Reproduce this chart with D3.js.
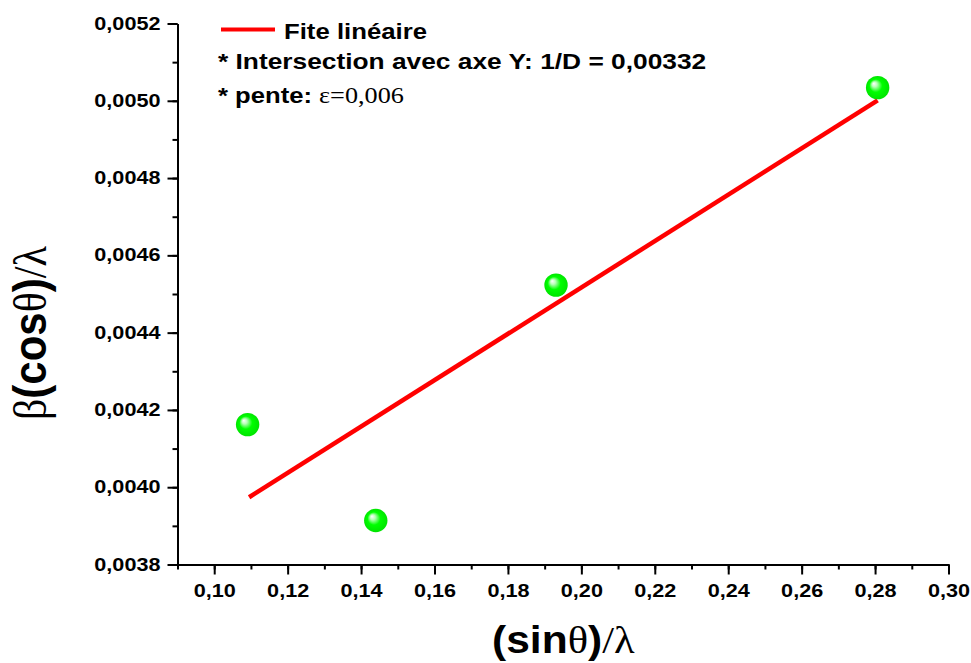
<!DOCTYPE html>
<html lang="en">
<head>
  <meta charset="UTF-8">
  <script src="https://cdnjs.cloudflare.com/ajax/libs/d3/7.8.5/d3.min.js"></script>
  <title>Williamson-Hall</title>
  <style>
    body { margin: 0; background: #fff; }
    text { font-family: "Liberation Sans", Arial, sans-serif; font-weight: bold; fill: #000; }
    .tick text { font-size: 18.5px; }
    .greek { font-family: "Liberation Serif", "Times New Roman", serif; font-weight: normal; }
    .axis path, .axis line { stroke: #000; stroke-width: 2; }
  </style>
</head>
<body>
<script>
  // points
  const sinTheta = [0.1091, 0.1440, 0.1931, 0.2807];
  const betaCos = [0.004162, 0.003914, 0.004523, 0.005034];
  // linear fit ends (1/D = 0,00332, slope 0,006)
  const fitX = [0.1095, 0.2807];
  const fitY = [0.003974, 0.005001];

  const xTicks = [0.10, 0.12, 0.14, 0.16, 0.18, 0.20, 0.22, 0.24, 0.26, 0.28, 0.30];
  const yTicks = [0.0038, 0.0040, 0.0042, 0.0044, 0.0046, 0.0048, 0.0050, 0.0052];
  const legendTexts = ["Fite linéaire", "* Intersection avec axe Y: 1/D = 0,00332"];

  const width = 971, height = 663;
  const stretch = 1.17;

  const svg = d3.select("body").append("svg")
    .attr("width", width).attr("height", height);

  const x = d3.scaleLinear().domain([0.09, 0.30]).range([177.5, 948.5]);
  const y = d3.scaleLinear().domain([0.0038, 0.0052]).range([564.5, 23.5]);

  const fr = d3.formatLocale({ decimal: ",", thousands: " ", grouping: [3], currency: ["", ""] });

  // gradient for the green balls
  const grad = svg.append("defs").append("radialGradient")
    .attr("id", "ball").attr("cx", "50%").attr("cy", "50%").attr("r", "50%")
    .attr("fx", "33%").attr("fy", "32%");
  grad.append("stop").attr("offset", "0%").attr("stop-color", "#ffffff");
  grad.append("stop").attr("offset", "22%").attr("stop-color", "#b8ffb8");
  grad.append("stop").attr("offset", "55%").attr("stop-color", "#00ff00");
  grad.append("stop").attr("offset", "100%").attr("stop-color", "#00e400");

  // minor ticks first
  svg.append("g").attr("class", "axis")
    .attr("transform", `translate(0,${y(0.0038)})`)
    .call(d3.axisBottom(x).tickValues(d3.range(0.09, 0.3001, 0.01)).tickSize(5).tickFormat(""))
    .select(".domain").remove();
  svg.append("g").attr("class", "axis")
    .attr("transform", `translate(${x(0.09)},0)`)
    .call(d3.axisLeft(y).tickValues(d3.range(0.0038, 0.00521, 0.0001)).tickSize(5).tickFormat(""))
    .select(".domain").remove();

  const gx = svg.append("g").attr("class", "axis")
    .attr("transform", `translate(0,${y(0.0038)})`)
    .call(d3.axisBottom(x).tickValues(xTicks).tickSize(10).tickSizeOuter(0).tickFormat(fr.format(".2f")));
  gx.selectAll("text")
    .attr("y", 0).attr("dy", 0)
    .attr("transform", `translate(0,32) scale(${stretch},1)`);

  const gy = svg.append("g").attr("class", "axis")
    .attr("transform", `translate(${x(0.09)},0)`)
    .call(d3.axisLeft(y).tickValues(yTicks).tickSize(10).tickSizeOuter(0).tickFormat(fr.format(".4f")));
  gy.selectAll("text")
    .attr("x", 0).attr("dy", "0.3em")
    .attr("transform", `translate(-17,0) scale(${stretch},1)`);

  // fit line
  const line = d3.line().x(d => x(d[0])).y(d => y(d[1]));
  svg.append("path")
    .datum(fitX.map((v, i) => [v, fitY[i]]))
    .attr("d", line)
    .attr("fill", "none").attr("stroke", "#ff0000").attr("stroke-width", 4.5);

  // points
  svg.selectAll("circle.pt")
    .data(sinTheta.map((v, i) => [v, betaCos[i]]))
    .join("circle")
    .attr("class", "pt")
    .attr("cx", d => x(d[0])).attr("cy", d => y(d[1]))
    .attr("r", 11.7)
    .attr("fill", "url(#ball)");

  // legend
  svg.append("line")
    .attr("x1", 221).attr("x2", 275).attr("y1", 29.5).attr("y2", 29.5)
    .attr("stroke", "#ff0000").attr("stroke-width", 4);
  svg.append("text")
    .attr("transform", `translate(284,38.5) scale(${stretch},1)`)
    .style("font-size", "22px")
    .text(legendTexts[0]);
  svg.append("text")
    .attr("transform", `translate(218,68.5) scale(1.17,1)`)
    .style("font-size", "22.5px")
    .text(legendTexts[1]);
  const t3 = svg.append("text")
    .attr("transform", `translate(218,103) scale(1.14,1)`)
    .style("font-size", "22.5px");
  t3.append("tspan").text("* pente: ");
  t3.append("tspan").attr("class", "greek").style("font-size", "23px").text("ε=0,006");

  // axis titles
  const xt = svg.append("text")
    .attr("transform", `translate(492,653) scale(1.12,1)`)
    .style("font-size", "38px");
  xt.append("tspan").text("(sin");
  xt.append("tspan").attr("class", "greek").text("θ");
  xt.append("tspan").text(")");
  xt.append("tspan").attr("class", "greek").text("/λ");

  const yt = svg.append("text")
    .attr("transform", `translate(46,420) rotate(-90) scale(1,1.1)`)
    .style("font-size", "42px");
  yt.append("tspan").attr("class", "greek").text("β");
  yt.append("tspan").text("(cos");
  yt.append("tspan").attr("class", "greek").text("θ");
  yt.append("tspan").text(")");
  yt.append("tspan").attr("class", "greek").text("/λ");
</script>
</body>
</html>
